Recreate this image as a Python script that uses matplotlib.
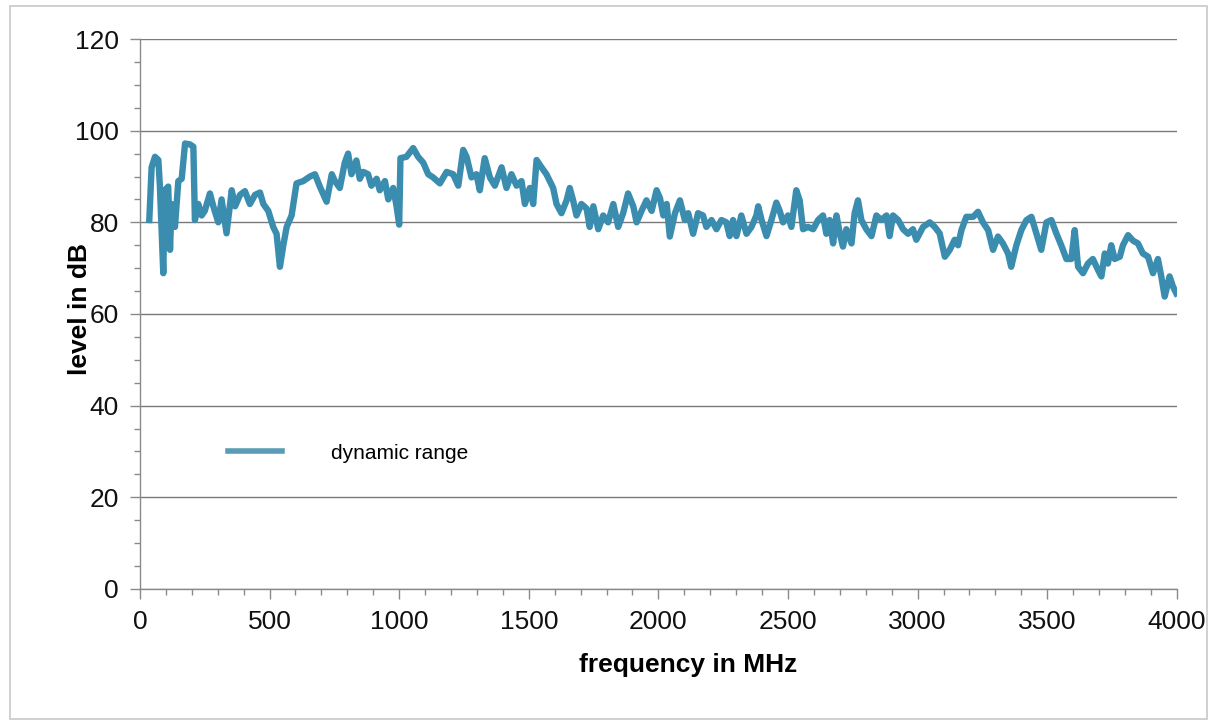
import matplotlib
matplotlib.use("Agg")
import matplotlib.pyplot as plt
from matplotlib.ticker import MultipleLocator
from matplotlib.patches import Rectangle

plt.rcParams['font.family'] = ['Liberation Sans', 'DejaVu Sans']

freq_mhz = [36,45,58,71,77,90,96,109,116,122,135,148,161,174,193,206,212,225,238,250,270,283,302,315,334,354,367,386,405,424,444,463,476,495,514,527,540,553,566,585,604,630,656,675,694,720,740,752,771,790,803,816,835,848,861,880,893,913,925,945,958,977,990,1000,1005,1028,1054,1073,1093,1112,1131,1157,1183,1208,1228,1247,1260,1279,1298,1311,1330,1350,1369,1395,1414,1433,1453,1472,1485,1504,1517,1530,1549,1568,1594,1607,1626,1646,1658,1671,1684,1703,1723,1735,1749,1768,1787,1806,1826,1845,1864,1883,1903,1916,1935,1954,1974,1993,2006,2019,2032,2044,2064,2083,2102,2115,2134,2153,2172,2185,2205,2224,2243,2262,2275,2288,2301,2320,2340,2359,2378,2385,2398,2417,2436,2455,2468,2481,2500,2513,2532,2545,2558,2577,2597,2616,2635,2648,2661,2674,2687,2700,2712,2725,2745,2757,2770,2783,2802,2822,2841,2860,2880,2892,2905,2925,2944,2963,2982,2995,3021,3047,3066,3085,3105,3124,3143,3156,3169,3188,3214,3233,3252,3272,3291,3310,3329,3349,3361,3381,3400,3420,3439,3458,3477,3497,3516,3535,3554,3574,3593,3606,3619,3638,3657,3676,3696,3709,3722,3734,3747,3760,3780,3792,3812,3831,3850,3869,3889,3908,3927,3940,3953,3972,3985,3998]

dynamic_range_db = [80.5,92,94.3,93.6,87.8,68.9,87,87.8,74,84,79,89,89.5,97.2,97,96.5,80.5,84,81.5,82.5,86.3,83.5,80,85,77.6,87,83.5,86,86.8,84,86,86.5,84,82.5,79,77.5,70.3,75,79,81.5,88.5,89,90,90.5,87.8,84.5,90.5,89,87.5,93,95,90.5,93.5,89.5,91,90.5,88,89.5,87,89,85,87.5,83.5,79.5,94,94.3,96.2,94.3,93,90.5,89.8,88.5,91,90.5,88,95.8,94.3,89.8,90.5,87,94,89.8,88,92,87.5,90.5,88,89,84,87.5,84,93.6,92,90.5,87.5,84,82,84.8,87.5,84.8,81.5,84,83,79,83.5,78.5,81.5,80,84,79,82,86.3,83.5,80,82.5,84.8,82.5,87,85.3,81.5,84,76.9,82,84.8,80.5,82,77.5,82,81.5,79,80.5,78.5,80.5,80,77,80.5,77,81.5,77.5,79,81.5,83.5,80.5,77,80.5,84.3,82.5,80,81.5,79,87,84.8,78.5,79,78.5,80.5,81.5,77.5,80.5,75.4,81.5,77.5,74.7,78.5,75.4,82,84.8,80.5,78.5,77,81.5,80.5,81.5,77,81.5,80.5,78.5,77.5,78.5,76.2,79,80,79,77.6,72.5,74,76.2,75,78.3,81.2,81.2,82.3,80,78.3,74,76.9,75.4,73.2,70.3,75,78.3,80.5,81.2,77.6,74,80,80.5,77.6,75,72,72,78.3,70.3,68.9,71,72,69.6,68.2,73.2,71,75,72,72.5,75,77.2,76,75.4,73.2,72.5,68.9,72,68.2,63.8,68.2,66,64.5]

fig = plt.figure(figsize=(12.17, 7.25), dpi=100)
fig.patches.append(Rectangle((0.008, 0.008), 0.984, 0.984, transform=fig.transFigure,
                             fill=False, edgecolor='#c8c8c8', linewidth=1.2))
ax = fig.add_axes([0.115, 0.1876, 0.852, 0.7586])

ax.plot(freq_mhz, dynamic_range_db, color='#3b8db0', linewidth=4.6,
        solid_joinstyle='round', label='dynamic range', zorder=3)

ax.set_xlim(0, 4000)
ax.set_ylim(0, 120)
ax.xaxis.set_major_locator(MultipleLocator(500))
ax.xaxis.set_minor_locator(MultipleLocator(100))
ax.yaxis.set_major_locator(MultipleLocator(20))
ax.yaxis.set_minor_locator(MultipleLocator(5))

ax.grid(axis='y', which='major', color='#7a7a7a', linewidth=1.0, zorder=1)
for s in ['top', 'right']:
    ax.spines[s].set_visible(False)
for s in ['left', 'bottom']:
    ax.spines[s].set_color('#8a8a8a')
    ax.spines[s].set_linewidth(1.0)

ax.tick_params(axis='both', which='major', direction='out', length=7, width=1,
               color='#8a8a8a', labelsize=19, labelcolor='#111111', pad=8)
ax.tick_params(axis='both', which='minor', direction='out', length=4, width=1,
               color='#8a8a8a')

ax.set_xlabel('frequency in MHz', fontsize=19, fontweight='bold')
ax.set_ylabel('level in dB', fontsize=19, fontweight='bold')
ax.xaxis.set_label_coords(0.529, -0.138)
ax.yaxis.set_label_coords(-0.058, 0.509)
ax.xaxis.label.set_va('center')
ax.yaxis.label.set_va('center')

leg = ax.legend(loc='center left', bbox_to_anchor=(0.085, 0.247), frameon=False,
                borderaxespad=0, borderpad=0,
                handlelength=2.6, handletextpad=2.35, fontsize=15)
for line in leg.get_lines():
    line.set_color('#5a9bb6')
    line.set_linewidth(4)

fig.savefig('out.png', dpi=100)
